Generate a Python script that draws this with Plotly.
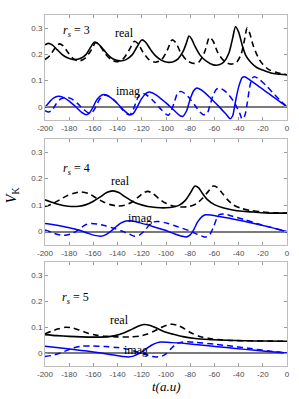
import plotly.graph_objects as go

# ---------------- data ----------------
x_ticks = [-200, -180, -160, -140, -120, -100, -80, -60, -40, -20, 0]
x_tick_labels = ["-200", "-180", "-160", "-140", "-120", "-100", "-80", "-60", "-40", "-20", "0"]
y_ticks = [0, 0.1, 0.2, 0.3]
y_tick_labels = ["0", "0.1", "0.2", "0.3"]
panel_labels = ["r_s = 3", "r_s = 4", "r_s = 5"]

# r_s = 3
rs3_real_solid_t = [-200, -197.5, -194, -190, -186, -182, -176, -170, -166, -163, -159, -156, -152, -148, -144,
                    -138, -133, -128, -124, -120, -117, -113, -109, -104, -99, -94, -90, -86, -83, -81, -79, -76,
                    -72, -67, -61, -56, -52, -48, -45, -42.5, -40, -37, -34, -30, -25, -20, -14, -8, 0]
rs3_real_solid_v = [0.236, 0.242, 0.236, 0.218, 0.2, 0.188, 0.18, 0.186, 0.2, 0.222, 0.247, 0.24, 0.22, 0.198, 0.183,
                    0.175, 0.18, 0.198, 0.228, 0.255, 0.247, 0.22, 0.196, 0.178, 0.17, 0.172, 0.183, 0.21, 0.245, 0.27,
                    0.26, 0.23, 0.198, 0.175, 0.16, 0.16, 0.172, 0.205, 0.26, 0.305, 0.285, 0.235, 0.195, 0.17, 0.15,
                    0.14, 0.13, 0.125, 0.122]
rs3_real_dash_t = [-200, -196, -192, -188, -185, -181, -177, -172, -167, -162, -158, -155, -151, -146, -141, -136,
                   -131, -126, -123, -119, -114, -109, -104, -99, -95, -92, -88, -83, -78, -73, -68, -64, -61, -57,
                   -52, -47, -42, -38, -35, -33, -31, -28, -24, -20, -15, -8, 0]
rs3_real_dash_v = [0.18, 0.195, 0.222, 0.24, 0.232, 0.207, 0.185, 0.175, 0.185, 0.215, 0.245, 0.236, 0.207, 0.182,
                   0.172, 0.18, 0.212, 0.25, 0.24, 0.208, 0.18, 0.17, 0.178, 0.215, 0.255, 0.245, 0.208, 0.178, 0.166,
                   0.17, 0.21, 0.265, 0.25, 0.205, 0.175, 0.163, 0.168, 0.2, 0.258, 0.3, 0.283, 0.235, 0.19, 0.162,
                   0.142, 0.13, 0.122]
rs3_imag_solid_t = [-200, -197, -193, -189, -185, -180, -175, -170, -166, -163, -160, -157, -153, -150, -146, -140,
                    -135, -130, -127, -124, -120, -116, -113, -108, -100, -93, -88, -86, -83, -80, -77, -74.5, -70,
                    -62, -55, -50, -47, -45, -43, -40, -37, -35, -30, -24, -18, -12, -6, 0]
rs3_imag_solid_v = [-0.003, 0.015, 0.033, 0.04, 0.036, 0.022, 0.002, -0.02, -0.03, -0.022, 0.002, 0.028, 0.045,
                    0.046, 0.036, 0.012, -0.012, -0.03, -0.025, -0.002, 0.032, 0.053, 0.056, 0.045, 0.015, -0.015,
                    -0.035, -0.036, -0.015, 0.03, 0.062, 0.072, 0.062, 0.028, -0.005, -0.03, -0.045, -0.035, 0.01,
                    0.075, 0.112, 0.115, 0.1, 0.08, 0.06, 0.04, 0.02, 0.0]
rs3_imag_dash_t = [-200, -197, -194, -191, -187, -182, -178, -173, -168, -164, -161, -158, -155, -151, -147, -142,
                   -137, -132, -130, -127, -124, -121, -117, -111, -105, -100, -98, -96, -93, -90, -87, -82, -76,
                   -72, -69, -66, -64, -61, -58, -55, -50, -44, -39, -37, -35, -33, -31, -29, -27, -23, -17, -10,
                   -5, 0]
rs3_imag_dash_v = [-0.015, -0.02, -0.012, 0.01, 0.03, 0.037, 0.03, 0.012, -0.01, -0.023, -0.02, 0.0, 0.028, 0.044,
                   0.04, 0.022, -0.005, -0.028, -0.03, -0.01, 0.028, 0.05, 0.048, 0.025, -0.005, -0.028, -0.032,
                   -0.02, 0.02, 0.055, 0.058, 0.04, 0.005, -0.02, -0.03, -0.025, 0.0, 0.045, 0.068, 0.07, 0.055,
                   0.02, -0.025, -0.047, -0.035, 0.01, 0.07, 0.108, 0.115, 0.105, 0.08, 0.045, 0.022, 0.0]

# r_s = 4
rs4_real_solid_t = [-200, -195, -190, -185, -178, -172, -166, -160, -154, -149, -144, -139, -134, -128, -122, -115,
                    -108, -100, -94, -89, -84, -80, -76, -73, -70, -66, -60, -53, -45, -37, -28, -18, -8, 0]
rs4_real_solid_v = [0.12, 0.112, 0.104, 0.099, 0.095, 0.096, 0.102, 0.115, 0.132, 0.148, 0.154, 0.148, 0.132,
                    0.115, 0.103, 0.095, 0.091, 0.09, 0.093, 0.1, 0.118, 0.145, 0.172, 0.165, 0.145, 0.122, 0.102,
                    0.09, 0.082, 0.077, 0.074, 0.071, 0.07, 0.07]
rs4_real_dash_t = [-200, -194, -188, -182, -176, -170, -164, -158, -152, -146, -140, -134, -128, -122, -118, -115,
                   -111, -106, -100, -94, -88, -81, -75, -70, -65, -61, -58, -54, -49, -44, -38, -30, -20, -10, 0]
rs4_real_dash_v = [0.095, 0.105, 0.12, 0.135, 0.145, 0.15, 0.144, 0.128, 0.113, 0.102, 0.097, 0.1, 0.112, 0.134,
                   0.148, 0.152, 0.145, 0.125, 0.107, 0.097, 0.093, 0.095, 0.105, 0.125, 0.152, 0.172, 0.168, 0.148,
                   0.12, 0.1, 0.088, 0.08, 0.074, 0.071, 0.07]
rs4_imag_solid_t = [-200, -190, -180, -172, -165, -159, -154, -150, -146, -142, -137, -133, -129, -122, -112, -102,
                    -93, -87, -83, -80, -77, -74, -70, -67, -62, -55, -45, -30, -15, 0]
rs4_imag_solid_v = [0.031, 0.024, 0.015, 0.006, -0.005, -0.014, -0.017, -0.012, 0.0, 0.016, 0.033, 0.04, 0.041,
                    0.034, 0.021, 0.007, -0.008, -0.017, -0.02, -0.012, 0.008, 0.036, 0.058, 0.064, 0.062, 0.056,
                    0.048, 0.034, 0.018, 0.0]
rs4_imag_dash_t = [-200, -195, -190, -186, -182, -178, -174, -170, -166, -162, -157, -150, -142, -135, -130, -126,
                   -122, -118, -114, -110, -106, -99, -90, -81, -74, -69, -67, -64, -61, -58, -56, -52, -45, -35,
                   -25, -15, -5, 0]
rs4_imag_dash_v = [0.006, -0.002, -0.01, -0.014, -0.013, -0.007, 0.002, 0.016, 0.027, 0.031, 0.029, 0.022, 0.011,
                   0.0, -0.01, -0.017, -0.013, 0.002, 0.024, 0.037, 0.038, 0.032, 0.018, 0.004, -0.01, -0.019,
                   -0.02, -0.012, 0.015, 0.05, 0.064, 0.066, 0.058, 0.045, 0.031, 0.018, 0.006, 0.0]

# r_s = 5
rs5_real_solid_t = [-200, -190, -180, -170, -160, -150, -142, -135, -128, -122, -118, -113, -107, -100, -94, -86,
                    -76, -65, -50, -35, -20, 0]
rs5_real_solid_v = [0.071, 0.067, 0.064, 0.062, 0.061, 0.062, 0.067, 0.077, 0.092, 0.105, 0.11, 0.106, 0.094, 0.08,
                    0.072, 0.063, 0.056, 0.052, 0.049, 0.047, 0.046, 0.045]
rs5_real_dash_t = [-200, -195, -189, -183, -178, -172, -165, -158, -150, -140, -130, -122, -116, -110, -104, -99,
                   -95, -90, -85, -79, -72, -64, -55, -45, -30, -15, 0]
rs5_real_dash_v = [0.074, 0.083, 0.093, 0.099, 0.097, 0.089, 0.077, 0.069, 0.064, 0.062, 0.062, 0.065, 0.072, 0.084,
                   0.098, 0.108, 0.111, 0.106, 0.094, 0.077, 0.064, 0.056, 0.051, 0.048, 0.047, 0.046, 0.045]
rs5_imag_solid_t = [-200, -185, -170, -160, -150, -142, -136, -131, -127, -122, -117, -112, -107, -104, -95, -80,
                    -65, -50, -35, -18, 0]
rs5_imag_solid_v = [0.026, 0.018, 0.01, 0.004, -0.003, -0.009, -0.013, -0.015, -0.012, -0.001, 0.014, 0.03, 0.04,
                    0.042, 0.04, 0.035, 0.028, 0.021, 0.014, 0.007, 0.0]
rs5_imag_dash_t = [-200, -195, -188, -182, -176, -170, -162, -150, -140, -132, -125, -118, -112, -108, -104, -100,
                   -96, -92, -88, -84, -75, -60, -45, -30, -15, 0]
rs5_imag_dash_v = [-0.013, -0.01, -0.001, 0.01, 0.02, 0.026, 0.027, 0.025, 0.021, 0.015, 0.006, -0.005, -0.013,
                   -0.015, -0.013, -0.003, 0.016, 0.033, 0.041, 0.043, 0.041, 0.034, 0.026, 0.017, 0.008, 0.0]

panels = [
    (rs3_real_solid_t, rs3_real_solid_v, rs3_real_dash_t, rs3_real_dash_v,
     rs3_imag_solid_t, rs3_imag_solid_v, rs3_imag_dash_t, rs3_imag_dash_v),
    (rs4_real_solid_t, rs4_real_solid_v, rs4_real_dash_t, rs4_real_dash_v,
     rs4_imag_solid_t, rs4_imag_solid_v, rs4_imag_dash_t, rs4_imag_dash_v),
    (rs5_real_solid_t, rs5_real_solid_v, rs5_real_dash_t, rs5_real_dash_v,
     rs5_imag_solid_t, rs5_imag_solid_v, rs5_imag_dash_t, rs5_imag_dash_v),
]

# ---------------- figure ----------------
fig = go.Figure()
DASH = "6px,4px"
SMOOTH = 0.8

for i, p in enumerate(panels):
    xa = "x" if i == 0 else f"x{i+1}"
    ya = "y" if i == 0 else f"y{i+1}"
    specs = [
        (p[0], p[1], "#000000", "solid", 1.6),
        (p[2], p[3], "#000000", DASH, 1.6),
        (p[4], p[5], "#0000ff", "solid", 1.5),
        (p[6], p[7], "#0000ff", DASH, 1.5),
    ]
    for t, v, col, dash, w in specs:
        fig.add_trace(go.Scatter(x=t, y=v, mode="lines", xaxis=xa, yaxis=ya, showlegend=False,
                                 line=dict(color=col, width=w, dash=dash, shape="spline", smoothing=SMOOTH),
                                 hoverinfo="skip"))

domains = [[0.701, 1.0], [0.345, 0.647], [0.0, 0.296]]
tickfont = dict(family="Liberation Sans, Arial, sans-serif", size=8, color="#4d4d4d")
axis_common = dict(showline=True, linecolor="#bdbdbd", linewidth=1, mirror="ticks", ticks="inside",
                   ticklen=3, tickcolor="#9a9a9a", tickwidth=1, showgrid=False, tickfont=tickfont)

layout = dict(width=299, height=399, margin=dict(l=45, r=9, t=15, b=33),
              paper_bgcolor="white", plot_bgcolor="white", showlegend=False)
for i in range(3):
    xk = "xaxis" if i == 0 else f"xaxis{i+1}"
    yk = "yaxis" if i == 0 else f"yaxis{i+1}"
    ya = "y" if i == 0 else f"y{i+1}"
    xa = "x" if i == 0 else f"x{i+1}"
    layout[xk] = dict(axis_common, range=[-200, 0], anchor=ya, domain=[0, 1],
                      tickvals=x_ticks, ticktext=x_tick_labels, zeroline=False)
    layout[yk] = dict(axis_common, range=[-0.05, 0.35], anchor=xa, domain=domains[i],
                      tickvals=y_ticks, ticktext=y_tick_labels,
                      zeroline=True, zerolinecolor="#7a7a7a", zerolinewidth=1.5)
fig.update_layout(**layout)

serif = "Liberation Serif, Times New Roman, serif"
# panel text positions (data coords of each subplot)
rs_pos = [(-174, 0.29), (-174, 0.236), (-174.5, 0.21)]
real_pos = [(-134.5, 0.283), (-138, 0.19), (-138.8, 0.129)]
imag_pos = [(-131.5, 0.061), (-121.5, 0.052), (-125, 0.012)]
for i in range(3):
    xa = "x" if i == 0 else f"x{i+1}"
    ya = "y" if i == 0 else f"y{i+1}"
    num = panel_labels[i].split("=")[1].strip()
    fig.add_annotation(x=rs_pos[i][0], y=rs_pos[i][1], xref=xa, yref=ya, showarrow=False,
                       text=f"<i>r</i><sub><i>s</i></sub> = {num}",
                       font=dict(family=serif, size=12, color="#000000"))
    fig.add_annotation(x=real_pos[i][0], y=real_pos[i][1], xref=xa, yref=ya, showarrow=False,
                       text="real", font=dict(family=serif, size=12, color="#000000"))
    fig.add_annotation(x=imag_pos[i][0], y=imag_pos[i][1], xref=xa, yref=ya, showarrow=False,
                       text="imag", font=dict(family=serif, size=12, color="#000000"))

fig.add_annotation(x=0.5, y=-0.058, xref="paper", yref="paper", showarrow=False,
                   text="<i>t(a.u)</i>", font=dict(family=serif, size=13, color="#000000"),
                   yanchor="middle", borderpad=0)
fig.add_annotation(x=-0.136, y=0.487, xref="paper", yref="paper", showarrow=False, textangle=-90,
                   text="<i>V</i><sub>K</sub>", font=dict(family=serif, size=14, color="#000000"),
                   xanchor="center", yanchor="middle")

fig.write_html("out.html", config={"displayModeBar": False},
               post_script="document.body.style.margin='0';document.body.style.overflow='hidden';")
